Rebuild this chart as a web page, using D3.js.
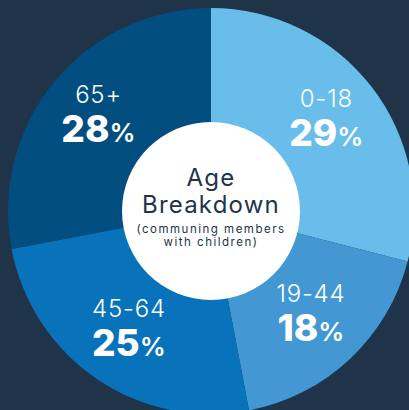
<!DOCTYPE html>
<html>
<head>
<meta charset="utf-8">
<script src="https://cdn.jsdelivr.net/npm/d3@7"></script>
<style>
    html, body { margin: 0; padding: 0; background: #1f3349; }
    svg { display: block; }
</style>
</head>
<body>
<div id="chart"></div>
<script>
// age groups and their share (%)
const categories = ["0-18", "19-44", "45-64", "65+"];
const shares = [29, 18, 25, 28];
const colors = ["#68bdea", "#4398d3", "#0873ba", "#034e80"];
const titleLines = ["Age", "Breakdown"];
const noteLines = ["(communing members", "with children)"];

const width = 409, height = 410;
const cx = 211, cy = 211;
const outerR = 203, holeR = 89, labelR = 146;

const svg = d3.select('#chart').append('svg')
    .attr('width', width)
    .attr('height', height);

svg.append('rect')
    .attr('width', width)
    .attr('height', height)
    .attr('fill', '#1f3349');

const g = svg.append('g')
    .attr('transform', `translate(${cx},${cy})`);

const data = categories.map((c, i) => ({ category: c, value: shares[i], color: colors[i] }));

const pie = d3.pie()
    .sort(null)
    .value(d => d.value);

const arc = d3.arc().innerRadius(0).outerRadius(outerR);
const labelArc = d3.arc().innerRadius(labelR).outerRadius(labelR);

const arcs = pie(data);

g.selectAll('.slice')
    .data(arcs)
    .enter().append('path')
    .attr('class', 'slice')
    .attr('d', arc)
    .attr('fill', d => d.data.color);

// slice labels
const labels = g.selectAll('.label')
    .data(arcs)
    .enter().append('g')
    .attr('class', 'label')
    .attr('transform', d => `translate(${labelArc.centroid(d)})`);

labels.append('text')
    .attr('y', -15)
    .attr('text-anchor', 'middle')
    .style('font-family', 'Inter, sans-serif')
    .style('font-weight', 300)
    .style('font-size', '24px')
    .style('letter-spacing', '0.8px')
    .style('fill', '#ffffff')
    .text(d => d.data.category);

const pct = labels.append('text')
    .attr('y', 24)
    .attr('text-anchor', 'middle')
    .style('font-family', 'Inter, sans-serif')
    .style('fill', '#ffffff');

pct.append('tspan')
    .style('font-weight', 800)
    .style('font-size', '37px')
    .text(d => d.data.value);

pct.append('tspan')
    .style('font-weight', 600)
    .style('font-size', '26px')
    .text('%');

// centre disc
g.append('circle')
    .attr('r', holeR)
    .attr('fill', '#ffffff');

g.selectAll('.title')
    .data(titleLines)
    .enter().append('text')
    .attr('class', 'title')
    .attr('y', (d, i) => -25 + i * 27)
    .attr('text-anchor', 'middle')
    .style('font-family', 'Inter, sans-serif')
    .style('font-weight', 400)
    .style('font-size', '24px')
    .style('letter-spacing', '1.2px')
    .style('fill', '#22344a')
    .text(d => d);

g.selectAll('.note')
    .data(noteLines)
    .enter().append('text')
    .attr('class', 'note')
    .attr('y', (d, i) => 22 + i * 13)
    .attr('text-anchor', 'middle')
    .style('font-family', 'Inter, sans-serif')
    .style('font-weight', 400)
    .style('font-size', '11.5px')
    .style('letter-spacing', '1.5px')
    .style('fill', '#22344a')
    .text(d => d);
</script>
</body>
</html>
